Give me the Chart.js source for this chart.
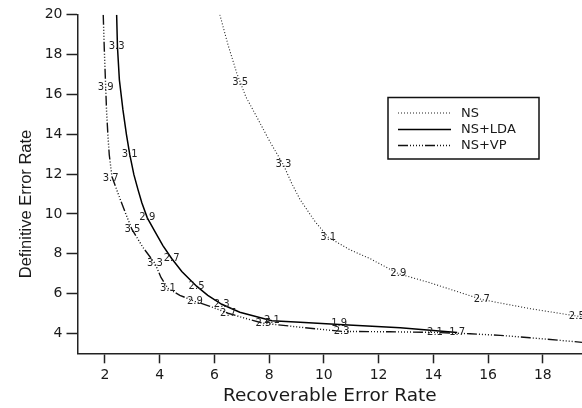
<!DOCTYPE html>
<html>
<head>
<meta charset="utf-8">
<script src="https://cdn.jsdelivr.net/npm/chart.js@4/dist/chart.umd.min.js"></script>
<style>
  html, body { margin: 0; padding: 0; background: #fff; }
  #wrap { width: 582px; height: 408px; position: relative; }
</style>
</head>
<body>
<div id="wrap"><canvas id="c" width="582" height="408"></canvas></div>
<script>
// ---- Data ----
const seriesNames = ["NS", "NS+LDA", "NS+VP"];

const nsX = [6.20, 6.50, 6.82, 7.15, 7.54, 8.03, 8.52, 8.83, 9.13, 9.68, 10.16, 10.95, 11.69, 12.72, 13.88, 15.77, 17.54, 19.24, 19.43];
const nsY = [20.0, 18.48, 17.06, 15.88, 14.89, 13.62, 12.47, 11.52, 10.72, 9.61, 8.83, 8.20, 7.75, 7.00, 6.54, 5.70, 5.24, 4.87, 4.83];

const ldaX = [2.43, 2.46, 2.53, 2.66, 2.79, 2.91, 3.06, 3.21, 3.35, 3.55, 3.83, 4.12, 4.44, 4.81, 5.35, 5.76, 6.27, 6.93, 8.10, 9.13, 10.56, 12.79, 14.87];
const ldaY = [20.0, 18.38, 16.73, 15.22, 13.97, 12.97, 11.97, 11.22, 10.56, 9.80, 9.11, 8.41, 7.76, 7.11, 6.37, 5.91, 5.46, 5.06, 4.63, 4.56, 4.45, 4.28, 4.05];

const vpX = [1.94, 1.98, 2.03, 2.06, 2.11, 2.16, 2.26, 2.52, 2.73, 2.99, 3.39, 3.83, 4.05, 4.30, 4.74, 5.29, 5.84, 6.50, 7.12, 7.79, 9.13, 10.65, 12.42, 14.06, 15.34, 16.44, 17.53, 18.63, 19.43];
const vpY = [20.0, 18.23, 16.36, 15.22, 13.97, 12.97, 11.86, 10.88, 10.12, 9.22, 8.32, 7.51, 6.81, 6.26, 5.91, 5.61, 5.36, 5.01, 4.76, 4.51, 4.31, 4.10, 4.08, 4.05, 3.98, 3.90, 3.78, 3.65, 3.55];

// threshold annotations along each curve
const nsLabelText = ["3.5", "3.3", "3.1", "2.9", "2.7", "2.5"];
const nsLabelX = [6.94, 8.52, 10.16, 12.72, 15.77, 19.24];
const nsLabelY = [16.59, 12.47, 8.83, 7.00, 5.70, 4.87];

const ldaLabelText = ["3.3", "3.1", "2.9", "2.7", "2.5", "2.3", "2.1", "1.9", "1.7"];
const ldaLabelX = [2.43, 2.91, 3.55, 4.44, 5.35, 6.27, 8.10, 10.56, 14.87];
const ldaLabelY = [18.40, 12.97, 9.80, 7.76, 6.37, 5.46, 4.63, 4.48, 4.05];

const vpLabelText = ["3.9", "3.7", "3.5", "3.3", "3.1", "2.9", "2.7", "2.5", "2.3", "2.1"];
const vpLabelX = [2.03, 2.21, 3.01, 3.83, 4.30, 5.29, 6.50, 7.79, 10.65, 14.06];
const vpLabelY = [16.36, 11.80, 9.21, 7.51, 6.26, 5.61, 5.01, 4.51, 4.08, 4.05];

const xTicks = [2, 4, 6, 8, 10, 12, 14, 16, 18];
const yTicks = [4, 6, 8, 10, 12, 14, 16, 18, 20];

const xTitle = "Recoverable Error Rate";
const yTitle = "Definitive Error Rate";

// ---- Build chart ----
const zip = (xs, ys) => xs.map((x, i) => ({x: x, y: ys[i]}));
const INK = '#1a1a1a';

const datasets = [
  { label: seriesNames[0], data: zip(nsX, nsY), borderColor: '#222', borderWidth: 1.1, borderDash: [1, 2],
    labelsText: nsLabelText, labelsX: nsLabelX, labelsY: nsLabelY },
  { label: seriesNames[1], data: zip(ldaX, ldaY), borderColor: '#000', borderWidth: 1.5, borderDash: [],
    labelsText: ldaLabelText, labelsX: ldaLabelX, labelsY: ldaLabelY },
  { label: seriesNames[2], data: zip(vpX, vpY), borderColor: '#111', borderWidth: 1.4, borderDash: [10, 2, 1, 2, 1, 2, 1, 2, 1, 2, 1, 2],
    labelsText: vpLabelText, labelsX: vpLabelX, labelsY: vpLabelY }
].map(d => Object.assign({ showLine: true, pointRadius: 0, pointHoverRadius: 0, fill: false, tension: 0, borderCapStyle: 'butt' }, d));

const curveLabels = {
  id: 'curveLabels',
  afterDatasetsDraw(chart) {
    const {ctx, scales: {x, y}} = chart;
    ctx.save();
    ctx.font = '10px "DejaVu Sans"';
    ctx.fillStyle = '#222';
    ctx.textAlign = 'center';
    ctx.textBaseline = 'middle';
    chart.data.datasets.forEach(ds => {
      ds.labelsText.forEach((t, i) => {
        ctx.fillText(t, x.getPixelForValue(ds.labelsX[i]), y.getPixelForValue(ds.labelsY[i]));
      });
    });
    ctx.restore();
  }
};

const boxLegend = {
  id: 'boxLegend',
  afterDraw(chart) {
    const ctx = chart.ctx;
    ctx.save();
    const bx = 388, by = 97.5, bw = 151, bh = 61.5;
    ctx.lineWidth = 1.5;
    ctx.strokeStyle = '#111';
    ctx.setLineDash([]);
    ctx.strokeRect(bx, by, bw, bh);
    const rows = [113, 129.5, 145.5];
    chart.data.datasets.forEach((ds, i) => {
      ctx.beginPath();
      ctx.lineWidth = ds.borderWidth;
      ctx.strokeStyle = ds.borderColor;
      ctx.setLineDash(ds.borderDash || []);
      ctx.lineCap = 'butt';
      ctx.moveTo(398, rows[i]);
      ctx.lineTo(451, rows[i]);
      ctx.stroke();
      ctx.setLineDash([]);
      ctx.font = '13px "DejaVu Sans"';
      ctx.fillStyle = INK;
      ctx.textAlign = 'left';
      ctx.textBaseline = 'middle';
      ctx.fillText(ds.label, 461, rows[i] + 0.5);
    });
    ctx.restore();
  }
};

const axisTitles = {
  id: 'axisTitles',
  afterDraw(chart) {
    const ctx = chart.ctx;
    const area = chart.chartArea;
    ctx.save();
    ctx.fillStyle = INK;
    ctx.font = '18.5px "DejaVu Sans"';
    ctx.textAlign = 'center';
    ctx.textBaseline = 'alphabetic';
    ctx.fillText(xTitle, (area.left + area.right) / 2, 401);
    ctx.translate(31, 204);
    ctx.rotate(-Math.PI / 2);
    ctx.font = '16.5px "Liberation Sans"';
    ctx.fillText(yTitle, 0, 0);
    ctx.restore();
  }
};

new Chart(document.getElementById('c'), {
  type: 'scatter',
  data: { datasets: datasets },
  plugins: [curveLabels, boxLegend, axisTitles],
  options: {
    responsive: false,
    animation: false,
    events: [],
    layout: { padding: { top: 14.7, right: 0, bottom: 0, left: 0 } },
    plugins: { legend: { display: false }, tooltip: { enabled: false }, title: { display: false } },
    scales: {
      x: {
        type: 'linear', min: 1, max: 19.43,
        afterBuildTicks: s => { s.ticks = xTicks.map(v => ({value: v})); },
        afterFit: s => { s.height = 54.7; },
        border: { display: true, color: '#222', width: 1.5 },
        grid: { drawOnChartArea: false, drawTicks: true, tickLength: 10, color: '#222', tickWidth: 1.5 },
        ticks: { color: INK, font: { family: 'DejaVu Sans', size: 14 }, padding: 4, maxRotation: 0, autoSkip: false },
        title: { display: false }
      },
      y: {
        type: 'linear', min: 3, max: 20,
        afterBuildTicks: s => { s.ticks = yTicks.map(v => ({value: v})); },
        afterFit: s => { s.width = 77.5; },
        border: { display: true, color: '#222', width: 1.5 },
        grid: { drawOnChartArea: false, drawTicks: true, tickLength: 11, color: '#222', tickWidth: 1.5 },
        ticks: { color: INK, font: { family: 'DejaVu Sans', size: 14 }, padding: 4, autoSkip: false },
        title: { display: false }
      }
    }
  }
});
</script>
</body>
</html>
